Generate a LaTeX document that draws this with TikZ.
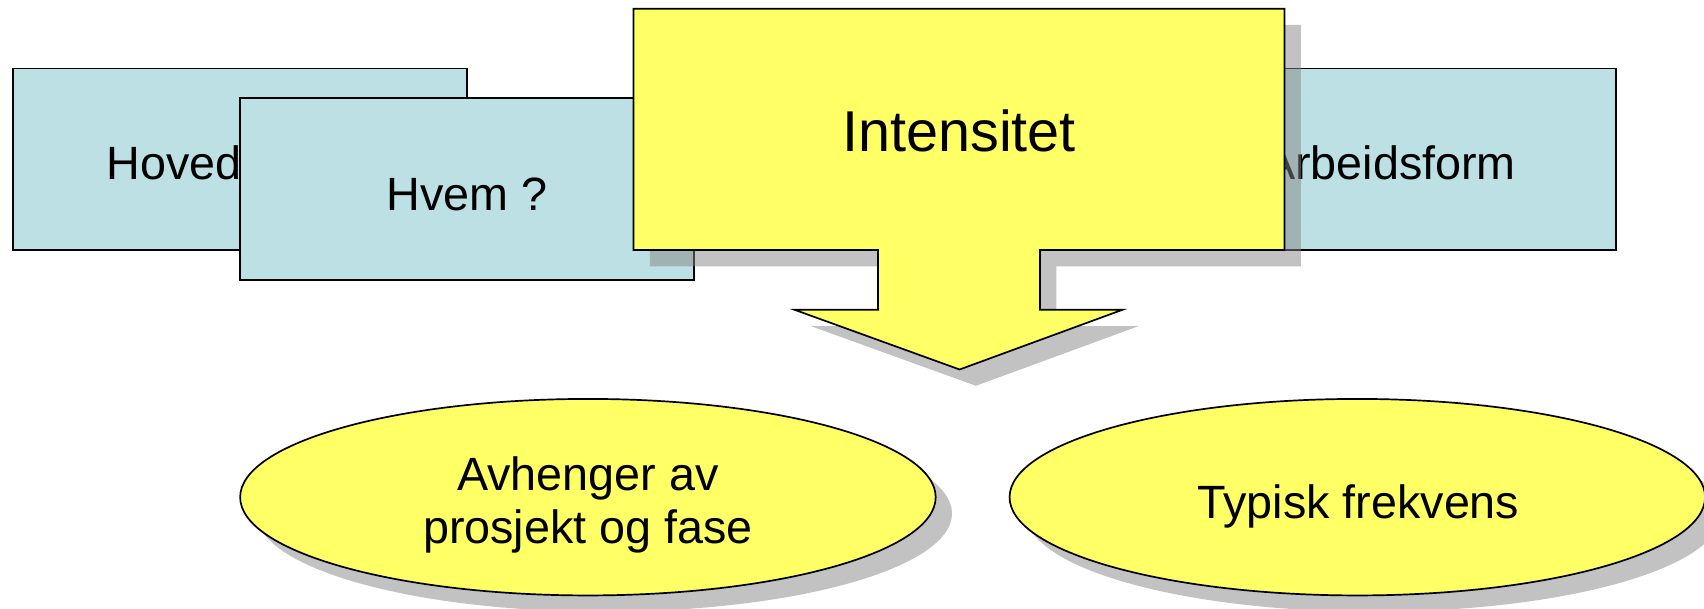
\documentclass[tikz,border=0pt]{standalone}
\usepackage{fontspec}
\setmainfont{Liberation Sans}
\usetikzlibrary{shapes.geometric,shadows}
\definecolor{boxcyan}{HTML}{BCE0E3}
\definecolor{boxyellow}{HTML}{FFFF66}
\definecolor{shadowgray}{HTML}{858585}
\tikzset{
  cyanbox/.style={draw=black, line width=1.7pt, fill=boxcyan, minimum width=454pt, minimum height=181.5pt, inner sep=0pt},
  bigtext/.style={font=\fontsize{46.7}{54}\selectfont},
  oval/.style={ellipse, draw=black, line width=1.7pt, fill=boxyellow, minimum width=695.5pt, minimum height=196.5pt, inner sep=0pt,
    general shadow={shadow xshift=16.3pt, shadow yshift=-16.3pt, fill=shadowgray, opacity=0.5}},
  ovaltext/.style={align=center, font=\fontsize{46.7}{53}\selectfont}
}
\begin{document}
\begin{tikzpicture}[x=1.0867pt, y=-1.0867pt]
\useasboundingbox (0,0) rectangle (1568,559.5);
% back row of boxes
\node[cyanbox] (hoved) at (221,146.5) {};
\node[bigtext, anchor=west] (hovedtext) at (95,150) {Hoved};
\node[cyanbox] (hvem) at (429.5,174) {};
\node[bigtext] (hvemtext) at (429.5,179) {Hvem ?};
\node[cyanbox] (arbeid) at (1278,146.5) {};
\node[bigtext] (arbeidtext) at (1279,150) {Arbeidsform};
% callout with arrow
\fill[shadowgray, opacity=0.5, xshift=16.3pt, yshift=-16.3pt] (583,8) -- (1182,8) -- (1182,230) -- (957,230) -- (957,285) -- (1033,285) -- (883,340) -- (731,285) -- (808,285) -- (808,230) -- (583,230) -- cycle;
\filldraw[draw=black, line width=1.7pt, fill=boxyellow] (583,8) -- (1182,8) -- (1182,230) -- (957,230) -- (957,285) -- (1033,285) -- (883,340) -- (731,285) -- (808,285) -- (808,230) -- (583,230) -- cycle;
\node[font=\fontsize{57.6}{65}\selectfont] (intens) at (882.5,120) {Intensitet};
% ellipses
\node[oval] (avh) at (541,457.5) {};
\node[ovaltext] (avhtext) at (541,465) {Avhenger av\\prosjekt og fase};
\node[oval] (typ) at (1249,457.5) {};
\node[ovaltext] (typtext) at (1250,466) {Typisk frekvens};
\end{tikzpicture}
\end{document}
